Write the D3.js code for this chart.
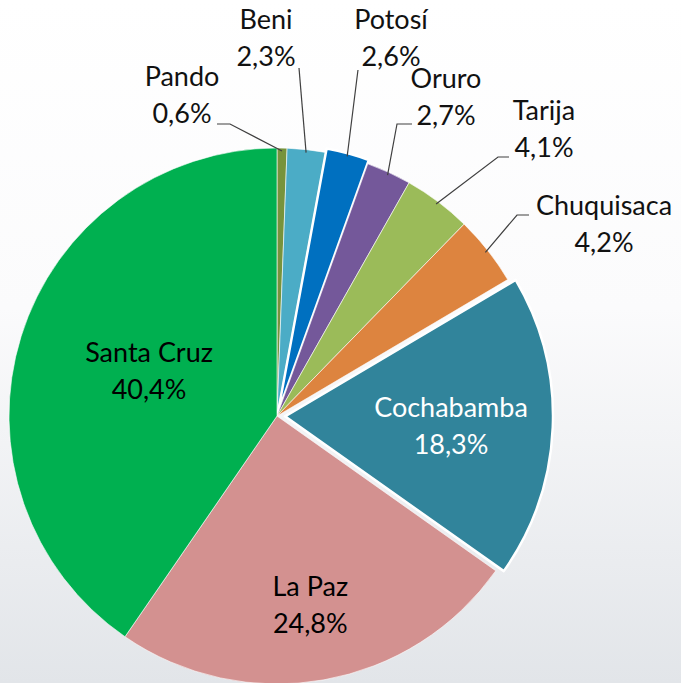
<!DOCTYPE html>
<html>
<head>
<meta charset="utf-8">
<script src="https://cdn.jsdelivr.net/npm/d3@7"></script>
<style>
  html, body { margin: 0; padding: 0; }
  body { width: 681px; height: 683px; overflow: hidden; }
</style>
</head>
<body>
<div id="chart"></div>
<script>
// departamentos, share of total (%)
let departments = ["Pando", "Beni", "Potosí", "Oruro", "Tarija", "Chuquisaca", "Cochabamba", "La Paz", "Santa Cruz"];
let shares = [0.6, 2.3, 2.6, 2.7, 4.1, 4.2, 18.3, 24.8, 40.4];
let shareLabels = ["0,6%", "2,3%", "2,6%", "2,7%", "4,1%", "4,2%", "18,3%", "24,8%", "40,4%"];
let sliceColors = ["#77933c", "#4bacc6", "#0070c0", "#74589a", "#9bbb59", "#dd843f", "#31849b", "#d39190", "#00b050"];

let width = 681, height = 683;
let cx = 277, cy = 416, radius = 268;

// how far each slice is pulled out, and where Excel put the labels
let explode = { "Potosí": 4, "Cochabamba": 8 };
let inside = {
  "Cochabamba": { r: 0.62, dy: 0, color: "#ffffff" },
  "La Paz": { r: 0.71, dy: -1, color: "#000000" },
  "Santa Cruz": { r: 0.5, dy: -8, color: "#000000" }
};
// outside labels: text centre (x, first baseline) and the elbow of the leader line
let outside = {
  "Pando": { x: 182, y: 86, ex: 230, ey: 124, tx: 217 },
  "Beni": { x: 266, y: 29, ex: 299, ey: 68, tx: 299 },
  "Potosí": { x: 391, y: 29, ex: 358, ey: 70, tx: 358 },
  "Oruro": { x: 446, y: 88, ex: 397, ey: 124, tx: 412 },
  "Tarija": { x: 544, y: 120, ex: 498, ey: 157, tx: 509 },
  "Chuquisaca": { x: 604, y: 215, ex: 517, ey: 215, tx: 529 }
};

let data = departments.map(function (d, i) {
  return { name: d, value: shares[i], label: shareLabels[i], color: sliceColors[i] };
});

let svg = d3.select("#chart").append("svg")
  .attr("width", width)
  .attr("height", height)
  .attr("font-family", "Lato, 'Open Sans', sans-serif")
  .attr("font-size", 27);

let defs = svg.append("defs");
let bg = defs.append("linearGradient").attr("id", "bg")
  .attr("x1", 0).attr("y1", 0).attr("x2", 0).attr("y2", 1);
bg.append("stop").attr("offset", "0%").attr("stop-color", "#ffffff");
bg.append("stop").attr("offset", "45%").attr("stop-color", "#fbfbfc");
bg.append("stop").attr("offset", "100%").attr("stop-color", "#e2e5e9");

svg.append("rect").attr("width", width).attr("height", height).attr("fill", "url(#bg)");

let pie = d3.pie().sort(null).value(function (d) { return d.value; });
let arc = d3.arc().innerRadius(0).outerRadius(radius);
let arcs = pie(data);

function offset(d) {
  let k = explode[d.data.name] || 0;
  let a = (d.startAngle + d.endAngle) / 2;
  return [Math.sin(a) * k, -Math.cos(a) * k];
}

let g = svg.append("g").attr("transform", "translate(" + cx + "," + cy + ")");

g.selectAll("path.slice")
  .data(arcs)
  .join("path")
  .attr("class", "slice")
  .attr("d", arc)
  .attr("transform", function (d) { let o = offset(d); return "translate(" + o[0] + "," + o[1] + ")"; })
  .attr("fill", function (d) { return d.data.color; })
  .attr("stroke", "#ffffff")
  .attr("stroke-width", function (d) { return explode[d.data.name] ? 2.5 : 0.6; })
  .attr("stroke-linejoin", "round");

// leader lines for small slices
let outsideArcs = arcs.filter(function (d) { return outside[d.data.name]; });

g.selectAll("polyline.leader")
  .data(outsideArcs)
  .join("polyline")
  .attr("class", "leader")
  .attr("fill", "none")
  .attr("stroke", "#404040")
  .attr("stroke-width", 1.2)
  .attr("points", function (d) {
    let L = outside[d.data.name];
    let o = offset(d);
    let a = (d.startAngle + d.endAngle) / 2;
    let p = [Math.sin(a) * (radius - 3) + o[0], -Math.cos(a) * (radius - 3) + o[1]];
    return [p, [L.ex - cx, L.ey - cy], [L.tx - cx, L.ey - cy]].map(function (q) { return q.join(","); }).join(" ");
  });

let lbl = svg.append("g").attr("text-anchor", "middle");

lbl.selectAll("text.out")
  .data(outsideArcs)
  .join("text")
  .attr("class", "out")
  .attr("fill", "#111111")
  .each(function (d) {
    let L = outside[d.data.name];
    let t = d3.select(this);
    t.append("tspan").attr("x", L.x).attr("y", L.y).text(d.data.name);
    t.append("tspan").attr("x", L.x).attr("y", L.y + 37).text(d.data.label);
  });

let insideArcs = arcs.filter(function (d) { return inside[d.data.name]; });

lbl.selectAll("text.in")
  .data(insideArcs)
  .join("text")
  .attr("class", "in")
  .attr("fill", function (d) { return inside[d.data.name].color; })
  .each(function (d) {
    let a = (d.startAngle + d.endAngle) / 2;
    let o = offset(d);
    let rr = radius * inside[d.data.name].r;
    let x = cx + o[0] + Math.sin(a) * rr;
    let y = cy + o[1] - Math.cos(a) * rr + inside[d.data.name].dy;
    let t = d3.select(this);
    t.append("tspan").attr("x", x).attr("y", y - 6).text(d.data.name);
    t.append("tspan").attr("x", x).attr("y", y + 31).text(d.data.label);
  });
</script>
</body>
</html>
